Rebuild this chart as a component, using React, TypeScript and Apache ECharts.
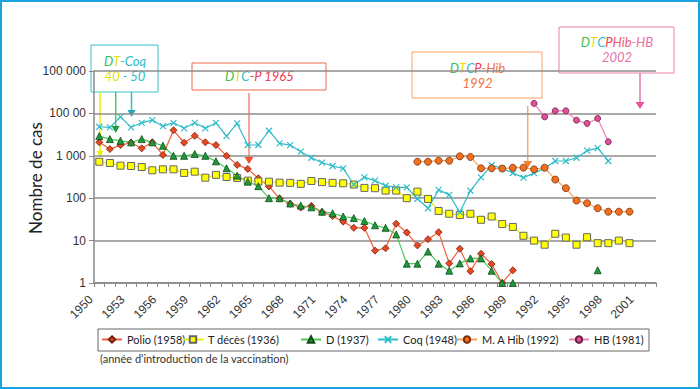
import { useEffect, useRef } from 'react';
import * as echarts from 'echarts';

const years = ['1950','1951','1952','1953','1954','1955','1956','1957','1958','1959',
  '1960','1961','1962','1963','1964','1965','1966','1967','1968','1969',
  '1970','1971','1972','1973','1974','1975','1976','1977','1978','1979',
  '1980','1981','1982','1983','1984','1985','1986','1987','1988','1989',
  '1990','1991','1992','1993','1994','1995','1996','1997','1998','1999',
  '2000','2001','2002'];

const polio = [2080, 1440, 1790, 2030, 1500, 2080, 1050, 4000, 2030, 2960,
  2080, 1790, 1000, 610, 490, 295, 190, 98, 74, 60,
  66, 47, 38, 28, 20, 20, 5.8, 6.6, 25, 15.5,
  7.7, 10.8, 15.8, 2.9, 6.4, 1.9, 4.9, 2.8, 1, 2,
  null, null, null, null, null, null, null, null, null, null, null, null, null];

const tDeces = [725, 676, 585, 575, 545, 455, 480, 480, 394, 422,
  305, 355, 316, 300, 260, 248, 245, 233, 230, 218,
  255, 240, 230, 225, 210, 175, 172, 151, 151, 100,
  143, 96, 50, 43, 40, 43, 31, 37, 24.5, 21,
  13, 10, 8, 14.5, 11.8, 8, 12, 8.7, 8.7, 10, 8.7, null, null];

const diph = [2920, 2480, 2260, 2080, 2480, 2080, 1730, 1000, 1000, 1100,
  1000, 740, 507, 340, 245, 192, 100, 100, 75, 67,
  61, 48, 44, 37, 34, 29, 23, 20, 14, 2.85,
  2.85, 5.5, 2.85, 1.95, 2.9, 3.8, 3.8, 1.95, 1, 1,
  null, null, null, null, null, null, null, 2, null, null, null, null, null];

const coq = [4840, 4700, 8300, 4700, 6000, 6950, 5000, 6000, 4450, 6000,
  4450, 6000, 2920, 5800, 1800, 1800, 3900, 1960, 1790, 1250,
  900, 690, 575, 507, 210, 310, 260, 197, 180, 180,
  97, 58, 157, 120, 47, 150, 310, 600, 505, 392,
  305, 390, 510, 755, 755, 900, 1320, 1520, 755, null, null, null, null];

const hib = [null, null, null, null, null, null, null, null, null, null,
  null, null, null, null, null, null, null, null, null, null,
  null, null, null, null, null, null, null, null, null, null,
  725, 725, 767, 767, 970, 940, 507, 507, 500, 522,
  525, 480, 525, 275, 172, 88, 76, 58, 48, 48, 48, null, null];

const hb = [null, null, null, null, null, null, null, null, null, null,
  null, null, null, null, null, null, null, null, null, null,
  null, null, null, null, null, null, null, null, null, null,
  null, null, null, null, null, null, null, null, null, null,
  null, 17200, 8300, 11500, 11500, 6900, 5800, 7600, 2140, null, null, null, null];

const seriesNames = ['Polio (1958)', 'T décès (1936)', 'D (1937)', 'Coq (1948)', 'M. A Hib (1992)', 'HB (1981)'];
const yTickLabels: Record<string, string> = { '1': '1', '10': '10', '100': '100', '1000': '1 000', '10000': '100 00', '100000': '100 000' };

const GREEN = '#3cc050';
const YELLOW = '#e8e000';
const CYAN = '#30bcc8';
const RED = '#f03c50';
const ORANGE = '#f07040';
const PINK = '#e870a8';

function rt(color: string) {
  return { fill: color, fontStyle: 'italic', fontSize: 13, fontFamily: 'Lato', lineHeight: 15 };
}

function arrow(x: number, y1: number, y2: number, lineColor: string, headColor: string, hw = 4, hh = 7) {
  return [
    { type: 'line', silent: true, shape: { x1: x, y1, x2: x, y2 }, style: { stroke: lineColor, lineWidth: 1.5 } },
    { type: 'polygon', silent: true, shape: { points: [[x - hw, y2 - 1], [x + hw, y2 - 1], [x, y2 + hh - 1]] }, style: { fill: headColor } },
  ];
}

function boxText(x: number, y: number, text: string, rich: Record<string, any>) {
  return { type: 'text', silent: true, x, y, style: { text, rich, align: 'center', verticalAlign: 'middle', fontStyle: 'italic', fontSize: 13, fontFamily: 'Lato', lineHeight: 15 } };
}

export default function App() {
  const ref = useRef<HTMLDivElement>(null);
  useEffect(() => {
    const chart = echarts.init(ref.current!, null, { renderer: 'svg' });
    const common = { type: 'line', showAllSymbol: true, connectNulls: false };
    const legendLefts = [101, 182, 300, 377, 456, 568];
    const richAll = { g: rt(GREEN), y: rt(YELLOW), c: rt(CYAN), r: rt(RED), o: rt(ORANGE), p: rt(PINK), h: rt('#f05a78') };
    const option: any = {
      animation: false,
      backgroundColor: '#ffffff',
      grid: { left: 94, top: 71, right: 44, bottom: 106, containLabel: false },
      legend: seriesNames.map((n, i) => ({
        data: [n], left: legendLefts[i], top: 334, padding: 0, itemGap: 0,
        itemWidth: 20, itemHeight: 8,
        textStyle: { fontSize: 11, fontFamily: 'Lato', color: '#222' },
      })),
      xAxis: {
        type: 'category', data: years, boundaryGap: true,
        axisLine: { lineStyle: { color: '#888', width: 1.5 } },
        axisTick: { show: true, interval: 0, length: 4, lineStyle: { color: '#888' } },
        axisLabel: { interval: 2, rotate: 45, fontSize: 12, color: '#333', fontFamily: 'Liberation Sans', margin: 6, padding: [0, 12, 0, 0] },
      },
      yAxis: {
        type: 'log', logBase: 10, min: 1, max: 100000,
        axisLine: { show: true, lineStyle: { color: '#888', width: 1.5 } },
        axisTick: { show: true, length: 5, lineStyle: { color: '#888' } },
        splitLine: { show: true, lineStyle: { color: '#8c8c8c', width: 1.5 } },
        axisLabel: { formatter: (v: number) => yTickLabels[String(Math.round(v))] ?? String(v), fontSize: 12, color: '#333', fontFamily: 'Liberation Sans', margin: 8 },
      },
      series: [
        { ...common, name: seriesNames[0], data: polio, symbol: 'diamond', symbolSize: 7,
          itemStyle: { color: '#e84820', borderColor: '#702010', borderWidth: 0.8 }, lineStyle: { color: '#f0603c', width: 1.2 } },
        { ...common, name: seriesNames[1], data: tDeces, symbol: 'rect', symbolSize: 7,
          itemStyle: { color: '#ffff00', borderColor: '#666', borderWidth: 1 }, lineStyle: { color: '#eeee00', width: 1.2 } },
        { ...common, name: seriesNames[2], data: diph, symbol: 'triangle', symbolSize: 7,
          itemStyle: { color: '#1e9a3c', borderColor: '#104a18', borderWidth: 0.8 }, lineStyle: { color: '#4cc85a', width: 1.2 } },
        { ...common, name: seriesNames[3], data: coq, symbol: 'path://M0,0L10,10M10,0L0,10', symbolSize: 6,
          itemStyle: { color: CYAN, borderColor: CYAN, borderWidth: 1.2 }, lineStyle: { color: CYAN, width: 1.2 } },
        { ...common, name: seriesNames[4], data: hib, symbol: 'circle', symbolSize: 7,
          itemStyle: { color: '#f07020', borderColor: '#7a3008', borderWidth: 0.8 }, lineStyle: { color: '#f8a058', width: 1.2 } },
        { ...common, name: seriesNames[5], data: hb, symbol: 'circle', symbolSize: 6,
          itemStyle: { color: '#e0509a', borderColor: '#6a2040', borderWidth: 0.8 }, lineStyle: { color: '#f080b8', width: 1.2 } },
      ],
      graphic: [
        { type: 'rect', silent: true, shape: { x: 1, y: 1, width: 698, height: 387 }, style: { fill: 'none', stroke: '#1aa3e0', lineWidth: 2 }, z: 100 },
        { type: 'text', silent: true, x: 35, y: 178, rotation: Math.PI / 2, style: { text: 'Nombre de cas', align: 'center', verticalAlign: 'middle', fontSize: 17, fontFamily: 'Lato', fill: '#222' } },
        // box 1
        { type: 'rect', silent: true, shape: { x: 91, y: 45, width: 67, height: 47 }, style: { fill: 'none', stroke: '#38c0c8', lineWidth: 1 } },
        boxText(125, 68.5, '{g|D}{y|T}{c|-Coq}\n{y|40}{c| - 50}', richAll),
        ...arrow(100, 92, 152, '#f0f000', '#f0f000', 3.5, 6),
        ...arrow(115.7, 92, 127, '#50c860', '#1e9a3c'),
        ...arrow(131.5, 92, 111, '#30bcc8', '#20a8b8'),
        // box 2
        { type: 'rect', silent: true, shape: { x: 192, y: 63, width: 134, height: 27 }, style: { fill: 'none', stroke: '#f06848', lineWidth: 1 } },
        boxText(259.5, 76, '{g|D}{y|T}{c|C}{r|-P 1965}', richAll),
        ...arrow(249, 93, 158, '#f08a70', '#f05030', 4.5, 7),
        // box 3
        { type: 'rect', silent: true, shape: { x: 412, y: 52, width: 130, height: 46 }, style: { fill: 'none', stroke: '#f8a060', lineWidth: 1 } },
        boxText(477.5, 75, '{g|D}{y|T}{c|C}{r|P}{o|-Hib}\n{o|1992}', richAll),
        ...arrow(527.7, 106, 162, '#f8a868', '#f08030', 4.5, 7),
        // box 4
        { type: 'rect', silent: true, shape: { x: 559, y: 27, width: 115, height: 46 }, style: { fill: 'none', stroke: '#e880b0', lineWidth: 1 } },
        boxText(617, 49.5, '{g|D}{y|T}{c|C}{r|P}{h|Hib}{p|-HB}\n{p|2002}', richAll),
        ...arrow(640, 73, 103, '#e878b0', '#e850a0', 4.5, 7),
        // legend frame and note
        { type: 'rect', silent: true, shape: { x: 98, y: 329, width: 551, height: 22 }, style: { fill: 'none', stroke: '#666', lineWidth: 1 } },
        { type: 'text', silent: true, x: 100, y: 358, style: { text: '(année d’introduction de la vaccination)', align: 'left', verticalAlign: 'middle', fontSize: 11, fontFamily: 'Lato', fill: '#333' } },
      ],
    };
    chart.setOption(option);
    return () => chart.dispose();
  }, []);
  return <div ref={ref} style={{ position: 'absolute', left: 0, top: 0, width: 700, height: 389 }} />;
}
